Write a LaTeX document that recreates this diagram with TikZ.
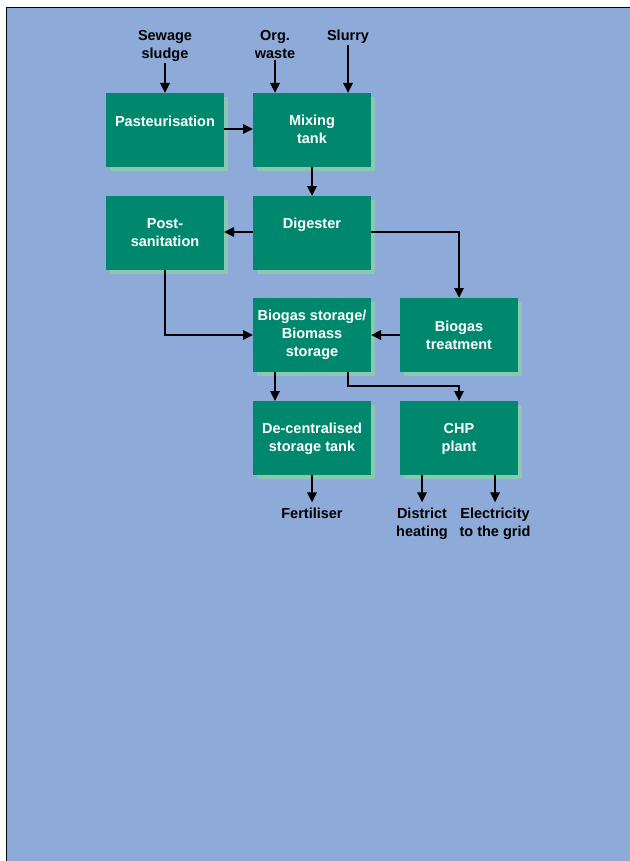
\documentclass[tikz,border=0pt]{standalone}
\usepackage{fontspec}
\setmainfont{Liberation Sans}
\usetikzlibrary{arrows.meta,shadows}
\definecolor{bgblue}{RGB}{142,170,216}
\definecolor{boxgreen}{RGB}{0,136,111}
\definecolor{shadowgreen}{RGB}{140,200,176}
\newcommand{\boxtext}[2]{\parbox[b][74pt][t]{118pt}{\centering\rule{0pt}{#1}#2}}
\newcommand{\labtext}[1]{\parbox[t]{100pt}{\centering #1}}
\begin{document}
\begin{tikzpicture}[x=1pt,y=-1pt,
  stepbox/.style={fill=boxgreen, inner sep=0pt, outer sep=0pt, anchor=north west,
    text=white, font=\fontsize{14.5}{18}\selectfont\bfseries,
    drop shadow={shadow xshift=4pt, shadow yshift=-4pt, fill=shadowgreen, opacity=1}},
  lab/.style={inner sep=0pt, outer sep=0pt, anchor=base, text=black,
    font=\fontsize{14.5}{18}\selectfont\bfseries},
  flow/.style={line width=2.4pt, -{Triangle[length=10pt,width=9pt]}}
]
\useasboundingbox (0,0) rectangle (629,861);
\fill[white] (-5,-5) rectangle (640,870);
\fill[bgblue] (6.5,7.5) rectangle (640,870);
\draw[line width=1.8pt] (6.5,870) -- (6.5,7.5) -- (640,7.5);

% boxes
\node[stepbox] (past) at (106,93) {\boxtext{34pt}{Pasteurisation}};
\node[stepbox] (mix) at (253,93) {\boxtext{33pt}{Mixing\\tank}};
\node[stepbox] (post) at (106,196) {\boxtext{32pt}{Post-\\sanitation}};
\node[stepbox] (dig) at (253,196) {\boxtext{32pt}{Digester}};
\node[stepbox] (stor) at (253,298) {\boxtext{22pt}{Biogas storage/\\Biomass\\storage}};
\node[stepbox] (treat) at (400,298) {\boxtext{33pt}{Biogas\\treatment}};
\node[stepbox] (dec) at (253,401) {\boxtext{32pt}{De-centralised\\storage tank}};
\node[stepbox] (chp) at (400,401) {\boxtext{32pt}{CHP\\plant}};

% labels
\node[lab] (sew) at (165,41) {\labtext{Sewage\\sludge}};
\node[lab] (org) at (275,41) {\labtext{Org.\\waste}};
\node[lab] (slu) at (348,41) {\labtext{Slurry}};
\node[lab] (fert) at (312,518) {\labtext{Fertiliser}};
\node[lab] (dist) at (422,518) {\labtext{District\\heating}};
\node[lab] (elec) at (495,518) {\labtext{Electricity\\to the grid}};

% connectors
\draw[flow] ([yshift=-1pt]sew.south) -- (sew.south |- past.north);
\draw[flow] ([yshift=-1pt]org.south) -- (org.south |- mix.north);
\draw[flow] ([yshift=-1pt]slu.south) -- (slu.south |- mix.north);
\draw[flow] ([yshift=1pt]past.east) -- ([yshift=1pt]mix.west);
\draw[flow] (mix.south) -- (dig.north);
\draw[flow] ([yshift=1pt]dig.west) -- ([yshift=1pt]post.east);
\draw[flow] ([yshift=1pt]dig.east) -| (treat.north);
\draw[flow] (post.south) |- (stor.west);
\draw[flow] (treat.west) -- (stor.east);
\draw[flow] ([xshift=-37pt]stor.south) -- ([xshift=-37pt]stor.south |- dec.north);
\coordinate (bend) at ([xshift=36pt,yshift=-14pt]stor.south);
\draw[flow] ([xshift=36pt]stor.south) -- (bend) -| (chp.north);
\draw[flow, shorten >=5pt] (dec.south) -- (dec.south |- fert.north);
\draw[flow, shorten >=5pt] (dist.north |- chp.south) -- (dist.north);
\draw[flow, shorten >=5pt] (elec.north |- chp.south) -- (elec.north);
\end{tikzpicture}
\end{document}
